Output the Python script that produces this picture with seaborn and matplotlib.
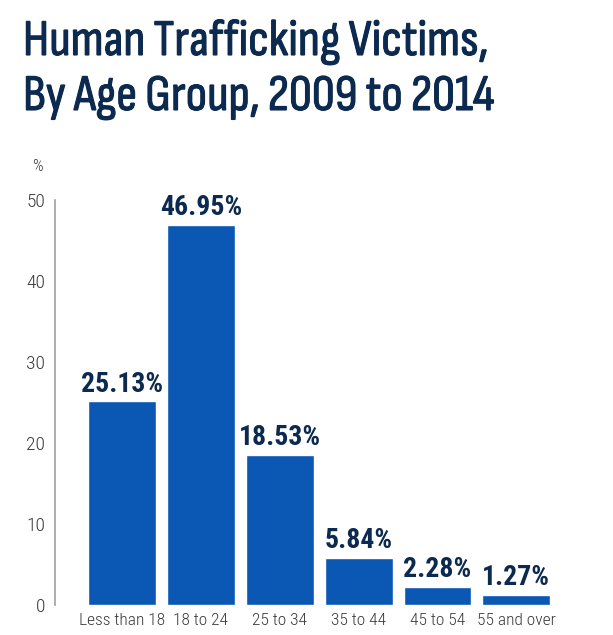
import seaborn as sns
import matplotlib.pyplot as plt
import matplotlib.patheffects as pe
import pandas as pd

## Data
age_groups = ['Less than 18', '18 to 24', '25 to 34', '35 to 44', '45 to 54', '55 and over']
victims_pct = [25.13, 46.95, 18.53, 5.84, 2.28, 1.27]
y_ticks = [0, 10, 20, 30, 40, 50]
title_lines = ['Human Trafficking Victims,', 'By Age Group, 2009 to 2014']

## Colors
bar_color = '#0a57b4'
navy = '#0c2a4f'
grey = '#3a3a3a'

df = pd.DataFrame({'age': age_groups, 'pct': victims_pct})

sns.set_style("white")
plt.rcParams['font.family'] = ['Roboto Condensed', 'DejaVu Sans']

fig = plt.figure(figsize=(6.13, 6.35), dpi=100)
ax = fig.add_axes([0.0897, 0.0472, 0.817, 0.638])

sns.barplot(data=df, x='age', y='pct', color=bar_color, width=0.86, saturation=1, ax=ax)

# value labels
for i, v in enumerate(victims_pct):
    ax.text(i, v + 1.2, '{:.2f}%'.format(v), ha='center', va='baseline',
            fontsize=20, fontweight='semibold', color=navy)

ax.set_ylim(0, 50)
ax.set_xlim(-0.85, 5.5)
ax.set_yticks(y_ticks)
ax.set_xlabel('')
ax.set_ylabel('')
ax.tick_params(axis='y', direction='in', length=11, width=1.2, color=navy,
               labelsize=14, labelcolor=grey, pad=7)
ax.tick_params(axis='x', length=0, labelsize=12.5, labelcolor=grey, pad=6)
for lab in ax.get_yticklabels() + ax.get_xticklabels():
    lab.set_fontweight('light')
for s in ['top', 'right', 'bottom']:
    ax.spines[s].set_visible(False)
ax.spines['left'].set_color('#a0a0a0')
ax.spines['left'].set_linewidth(1.2)

ax.text(-0.025, 1.065, '%', transform=ax.transAxes, ha='right', va='bottom',
        fontsize=12, color=grey, fontweight='light')

# title, two lines (thin stroke to get a medium weight)
thick = [pe.withStroke(linewidth=0.8, foreground=navy)]
fig.text(0.0375, 1 - 55 / 635, title_lines[0], ha='left', va='baseline',
         fontsize=37, color=navy, family='Sofia Sans Condensed', path_effects=thick)
fig.text(0.0375, 1 - 110 / 635, title_lines[1], ha='left', va='baseline',
         fontsize=37, color=navy, family='Sofia Sans Condensed', path_effects=thick)

plt.savefig('out.png', dpi=100)
